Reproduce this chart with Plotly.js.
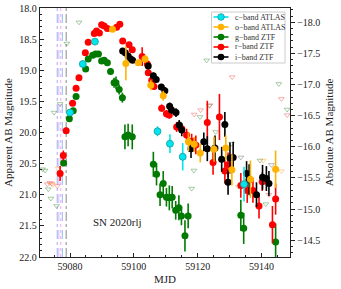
<!DOCTYPE html>
<html><head><meta charset="utf-8">
<script src="https://cdn.plot.ly/plotly-3.0.1.min.js"></script>
<style>html,body{margin:0;padding:0;background:#fff}</style>
</head><body><div id="chart" style="width:341px;height:289px"></div>
<script>
// ---- data ----
const DM = 36.23;
const c_mjd = [59080.0, 59084.0, 59087.8, 59107.4, 59111.3, 59115.3, 59134.5];
const c_mag = [19.68, 18.90, 18.54, 19.98, 20.18, 20.39, 20.83];
const c_err = [0.05, 0.03, 0.03, 0.08, 0.15, 0.22, 0.28];

const o_mjd = [59093.3, 59097.5, 59101.4, 59103.5, 59105.3, 59109.2, 59117.1, 59118.9, 59120.8, 59125.1, 59128.8, 59130.7, 59136.5, 59144.4];
const o_mag = [18.34, 18.89, 18.88, 18.82, 19.24, 19.41, 20.15, 20.19, 20.33, 20.27, 20.25, 20.60, 20.75, 20.59];
const o_err = [0.03, 0.27, 0.05, 0.06, 0.08, 0.08, 0.15, 0.12, 0.15, 0.2, 0.2, 0.25, 0.3, 0.3];

const g_mjd = [59078.0, 59079.8, 59081.0, 59081.9, 59084.9, 59085.7, 59087.1, 59088.0, 59088.9, 59089.9, 59090.7, 59091.7, 59092.7, 59093.8, 59094.4, 59095.4, 59096.4, 59097.2, 59098.2, 59099.5, 59106.1, 59107.1, 59108.2, 59109.2, 59110.2, 59111.1, 59112.0, 59113.1, 59114.1, 59114.9, 59116.0, 59117.0, 59133.5, 59134.4, 59144.4];
const g_mag = [20.49, 19.78, 19.65, 19.42, 18.98, 18.82, 18.76, 18.74, 18.74, 18.85, 18.84, 18.88, 19.02, 19.20, 19.20, 19.31, 19.44, 20.07, 20.04, 20.07, 20.51, 20.67, 21.00, 20.82, 21.04, 21.05, 21.04, 21.25, 21.21, 21.34, 21.66, 21.34, 21.33, 21.54, 21.76];
const g_err = [0.04, 0.04, 0.04, 0.03, 0.03, 0.03, 0.03, 0.03, 0.03, 0.03, 0.03, 0.03, 0.05, 0.08, 0.1, 0.08, 0.08, 0.2, 0.18, 0.2, 0.2, 0.18, 0.18, 0.2, 0.15, 0.2, 0.18, 0.15, 0.2, 0.15, 0.25, 0.2, 0.25, 0.25, 0.3];

const r_mjd = [59076.9, 59077.9, 59078.8, 59080.8, 59081.9, 59082.8, 59084.8, 59085.7, 59087.6, 59088.3, 59089.2, 59089.9, 59090.7, 59091.7, 59094.6, 59095.6, 59096.5, 59098.5, 59099.5, 59102.6, 59104.2, 59104.5, 59105.6, 59106.3, 59108.7, 59110.2, 59111.1, 59113.4, 59115.0, 59116.5, 59118.1, 59119.4, 59123.0, 59124.8, 59126.8, 59128.5, 59129.5, 59133.5, 59135.5, 59137.3, 59139.2, 59140.2, 59143.4, 59144.4];
const r_mag = [20.66, 20.37, 19.97, 19.53, 19.29, 19.12, 18.72, 18.55, 18.41, 18.37, 18.40, 18.27, 18.29, 18.33, 18.31, 18.26, 18.53, 18.59, 18.67, 18.78, 18.90, 19.04, 19.16, 19.26, 19.61, 19.70, 19.72, 19.91, 19.94, 20.04, 20.14, 20.20, 19.84, 20.48, 19.75, 20.62, 20.52, 20.85, 20.93, 20.93, 21.18, 20.79, 21.48, 21.07];
const r_err = [0.12, 0.08, 0.05, 0.04, 0.04, 0.04, 0.03, 0.03, 0.03, 0.03, 0.03, 0.03, 0.03, 0.03, 0.04, 0.04, 0.03, 0.04, 0.04, 0.15, 0.05, 0.05, 0.05, 0.05, 0.06, 0.06, 0.06, 0.08, 0.08, 0.1, 0.12, 0.15, 0.35, 0.2, 0.37, 0.2, 0.2, 0.2, 0.2, 0.2, 0.2, 0.15, 0.3, 0.25];

const i_mjd = [59096.5, 59097.3, 59098.2, 59099.0, 59099.6, 59104.5, 59106.1, 59107.0, 59108.6, 59109.7, 59111.2, 59111.8, 59113.2, 59114.2, 59115.0, 59117.9, 59121.9, 59123.0, 59125.4, 59127.5, 59128.5, 59129.5, 59130.1, 59131.1, 59135.3, 59136.1, 59138.4, 59140.3, 59141.5, 59142.3];
const i_mag = [18.69, 18.72, 18.77, 18.82, 18.84, 18.93, 19.09, 19.15, 19.27, 19.33, 19.58, 19.64, 19.68, 19.88, 19.96, 20.26, 20.15, 20.26, 20.25, 20.43, 19.87, 20.80, 20.41, 20.40, 20.66, 20.76, 21.00, 20.72, 20.74, 20.82];
const i_err = [0.04, 0.04, 0.04, 0.04, 0.04, 0.05, 0.05, 0.05, 0.05, 0.06, 0.06, 0.06, 0.07, 0.08, 0.1, 0.15, 0.15, 0.2, 0.2, 0.2, 0.2, 0.2, 0.25, 0.25, 0.2, 0.25, 0.2, 0.2, 0.2, 0.2];

// upper limits
const ulg_mjd = [59071.4, 59072.2, 59073.2, 59074.0, 59075.8, 59075.0, 59076.9, 59079.0, 59082.8, 59122.8, 59120.7, 59123.6, 59125.6, 59118.8, 59118.1, 59130.6, 59145.4, 59148.0, 59141.3, 59139.5];
const ulg_mag = [20.59, 20.61, 20.91, 21.06, 21.18, 19.68, 19.54, 18.57, 18.23, 18.84, 19.75, 19.57, 19.99, 20.61, 20.90, 20.18, 19.22, 19.63, 21.15, 20.45];
const ulr_mjd = [59072.9, 59073.7, 59074.3, 59076.0, 59130.8, 59146.2, 59148.0, 59118.9, 59120.9, 59123.8, 59142.3];
const ulr_mag = [20.83, 20.81, 20.82, 20.86, 19.11, 19.46, 19.72, 19.71, 19.64, 19.56, 21.00];
const ulo_mjd = [59074.6, 59076.3, 59140.5, 59146.2, 59132.7];
const ulo_mag = [20.84, 20.58, 20.45, 20.62, 20.87];
const ulx_mjd = [59126.9, 59133.5, 59143.1];
const ulx_mag = [18.85, 20.40, 20.52];

const vline_mjd = [59076.0, 59076.5, 59077.1, 59077.6, 59078.8];
const legend_labels = ['c\u2212band ATLAS', 'o\u2212band ATLAS', 'g\u2212band ZTF', 'r\u2212band ZTF', 'i\u2212band ZTF'];
const yticks = [18.0, 18.5, 19.0, 19.5, 20.0, 20.5, 21.0, 21.5, 22.0];

// ---- styles ----
const FONT = 'Liberation Serif, DejaVu Serif, serif';
const COL = {c: '#00e5ee', o: '#ffb300', g: '#007a00', r: '#ff0000', i: '#000000'};
const ULCOL = {g: 'rgba(60,140,60,0.45)', r: 'rgba(240,80,80,0.45)', o: 'rgba(255,170,60,0.5)', x: 'rgba(120,120,120,0.5)'};

function band(x, y, e, col) {
  return {x, y, type: 'scatter', mode: 'markers', showlegend: false,
    marker: {color: col, size: 7, line: {color: col, width: 0}},
    error_y: {type: 'data', array: e, visible: true, color: col, thickness: 1.6, width: 0}};
}
function ul(x, y, col) {
  return {x, y, type: 'scatter', mode: 'markers', showlegend: false,
    marker: {symbol: 'triangle-down-open', color: col, size: 5, line: {color: col, width: 1}}};
}

const traces = [
  ul(ulg_mjd, ulg_mag, ULCOL.g), ul(ulr_mjd, ulr_mag, ULCOL.r), ul(ulo_mjd, ulo_mag, ULCOL.o), ul(ulx_mjd, ulx_mag, ULCOL.x),
  band(g_mjd, g_mag, g_err, COL.g),
  band(r_mjd, r_mag, r_err, COL.r),
  band(i_mjd, i_mag, i_err, COL.i),
  band(o_mjd, o_mag, o_err, COL.o),
  band(c_mjd, c_mag, c_err, COL.c),
  {x: [null], y: [null], yaxis: 'y2', type: 'scatter', mode: 'markers', showlegend: false, hoverinfo: 'skip'}
];
traces[8].marker.line = {color: '#1a9a9a', width: 0.8};

// plot area in pixels
const L = 40, T = 8, W = 250, H = 249;
const px = v => (v - L) / W;
const py = v => 1 - (v - T) / H;

const shapes = [];
const vstyles = [
  {color: 'rgba(120,120,235,0.7)', dash: 'dashdot'},
  {color: 'rgba(160,130,255,0.6)', dash: 'dash'},
  {color: 'rgba(240,110,240,0.7)', dash: 'dot'},
  {color: 'rgba(90,150,240,0.7)', dash: 'dash'},
  {color: 'rgba(90,90,90,0.8)', dash: 'dashdot'}
];
vline_mjd.forEach((m, k) => shapes.push({type: 'line', xref: 'x', yref: 'paper', x0: m, x1: m, y0: 0, y1: 1,
  layer: 'below', line: {color: vstyles[k].color, width: 0.9, dash: vstyles[k].dash}}));

// custom legend
shapes.push({type: 'rect', xref: 'paper', yref: 'paper', x0: px(211.5), x1: px(285), y0: py(63), y1: py(12),
  fillcolor: 'rgba(255,255,255,0.8)', line: {color: '#cccccc', width: 1}, layer: 'above'});
const annotations = [];
const legCols = [COL.c, COL.o, COL.g, COL.r, COL.i];
legend_labels.forEach((lab, k) => {
  const yy = 17 + k * 10;
  shapes.push({type: 'line', xref: 'paper', yref: 'paper', x0: px(213.5), x1: px(228.5), y0: py(yy), y1: py(yy),
    line: {color: legCols[k], width: 1.6}, layer: 'above'});
  shapes.push({type: 'circle', xref: 'paper', yref: 'paper', xsizemode: 'pixel', ysizemode: 'pixel',
    xanchor: px(221), yanchor: py(yy), x0: -3.3, x1: 3.3, y0: -3.3, y1: 3.3,
    fillcolor: legCols[k], line: {color: k === 0 ? '#1a9a9a' : legCols[k], width: k === 0 ? 0.8 : 0}, layer: 'above'});
  annotations.push({xref: 'paper', yref: 'paper', x: px(233), y: py(yy), xanchor: 'left', yanchor: 'middle',
    text: lab, showarrow: false, font: {family: FONT, size: 8, color: '#333'}});
});
annotations.push({xref: 'x', yref: 'y', x: 59095.0, y: 21.43, text: 'SN 2020rlj', showarrow: false,
  font: {family: FONT, size: 11, color: '#222'}});

const layout = {
  width: 341, height: 289,
  margin: {l: L, r: 341 - L - W, t: T, b: 289 - T - H, pad: 0},
  paper_bgcolor: '#fff', plot_bgcolor: '#fff',
  font: {family: FONT, size: 10, color: '#222'},
  showlegend: false,
  xaxis: {range: [59070.6, 59148.9], tickvals: [59080, 59100, 59120, 59140], tickformat: 'd',
    ticks: 'inside', ticklen: 4, tickcolor: '#222', showgrid: false, zeroline: false,
    showline: true, linecolor: '#222', linewidth: 1.2, mirror: true,
    minor: {dtick: 5, tick0: 59080, ticks: 'inside', ticklen: 2, tickcolor: '#222'},
    tickfont: {family: FONT, size: 10}, title: {text: 'MJD', font: {family: FONT, size: 11}, standoff: 4}},
  yaxis: {range: [22, 18], tickvals: yticks, tickformat: '.1f', ticks: 'inside', ticklen: 4, tickcolor: '#222',
    showgrid: false, zeroline: false, showline: true, linecolor: '#222', linewidth: 1.2,
    minor: {dtick: 0.1, tick0: 18, ticks: 'inside', ticklen: 2, tickcolor: '#222'},
    tickfont: {family: FONT, size: 10}, title: {text: 'Apparent AB Magnitude', font: {family: FONT, size: 11}, standoff: 4}},
  yaxis2: {overlaying: 'y', side: 'right', range: [22 - DM, 18 - DM], dtick: 0.5, tick0: -18, tickformat: '.1f',
    ticks: 'outside', ticklen: 4, tickcolor: '#222', showgrid: false, zeroline: false, showline: true,
    linecolor: '#222', linewidth: 1.2,
    minor: {dtick: 0.1, ticks: 'outside', ticklen: 2, tickcolor: '#222'},
    tickfont: {family: FONT, size: 10}, title: {text: 'Absolute AB Magnitude', font: {family: FONT, size: 11}, standoff: 6}},
  shapes, annotations
};

Plotly.newPlot('chart', traces, layout, {staticPlot: true, displayModeBar: false});
</script></body></html>
